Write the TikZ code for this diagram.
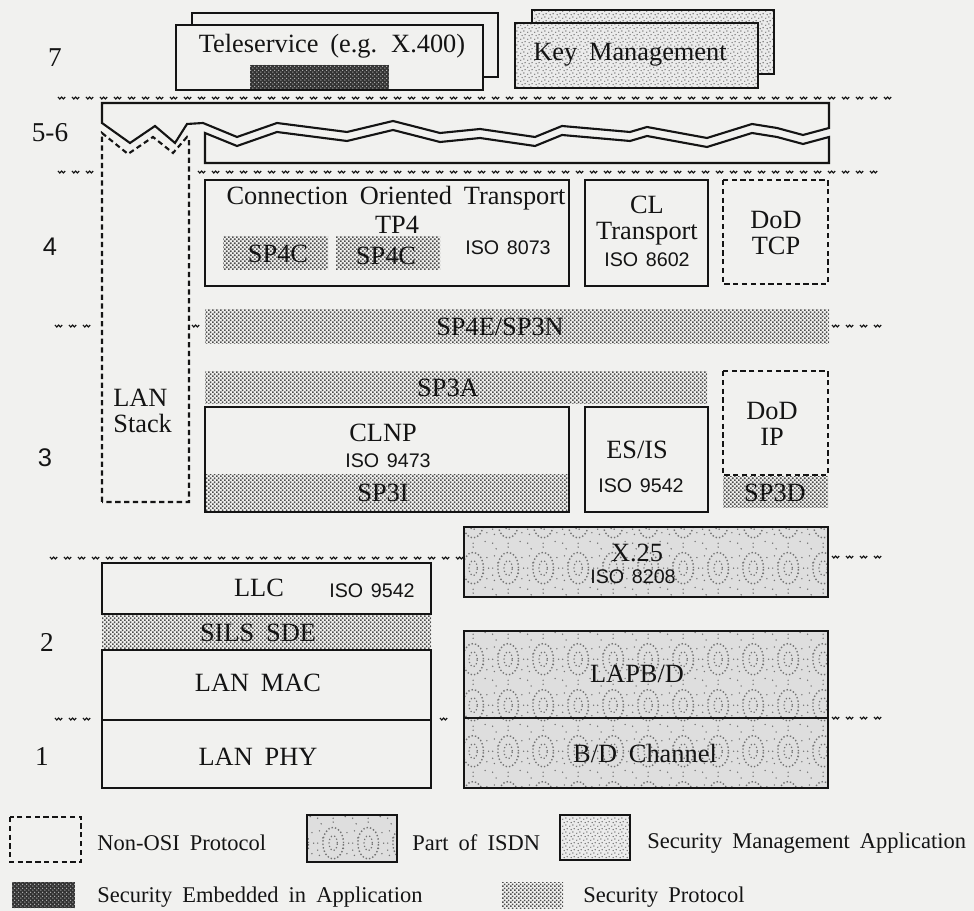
\documentclass[tikz,border=0pt]{standalone}
\usepackage{fontspec}
\setmainfont{Liberation Serif}[WordSpace=1.8]
\setsansfont{Liberation Sans}[WordSpace=1.4]
\usepackage{xcolor}
\usetikzlibrary{patterns.meta}
\definecolor{paper}{HTML}{F1F1EF}
\definecolor{ink}{HTML}{141414}

% fill patterns of the legend
\tikzdeclarepattern{
  name=secdots, type=uncolored,
  bounding box={(0pt,0pt) and (2.2pt,2.2pt)},
  tile size={(2.2pt,2.2pt)},
  code={\fill (0pt,0pt) rectangle (0.95pt,0.95pt);
        \fill (1.1pt,1.1pt) rectangle (2.05pt,2.05pt);}
}
\tikzdeclarepattern{
  name=mgmtdots, type=uncolored,
  bounding box={(0pt,0pt) and (4pt,4pt)},
  tile size={(4pt,4pt)},
  code={\fill (0.5pt,0.5pt) circle (0.45pt);
        \fill (2.5pt,1.3pt) circle (0.45pt);
        \fill (1.4pt,2.8pt) circle (0.45pt);
        \fill (3.3pt,3.4pt) circle (0.45pt);}
}
\tikzdeclarepattern{
  name=isdnrings, type=uncolored,
  bounding box={(0pt,0pt) and (20pt,26pt)},
  tile size={(20pt,26pt)},
  code={\draw[line width=0.8pt,dash pattern=on 0.8pt off 1.2pt]
          (10pt,13pt) ellipse [x radius=6pt,y radius=9pt];
        \draw[line width=0.7pt,dash pattern=on 0.7pt off 1.3pt]
          (10pt,13pt) ellipse [x radius=2.4pt,y radius=4.2pt];
        \foreach \dx/\dy in {1/1,1/13,2/6,2/20,10/1,10/25,18/7,18/19,
                             3/24,17/2,1/9,19/13,4/16,16/10}
          \fill (\dx pt,\dy pt) circle (0.45pt);}
}
\tikzdeclarepattern{
  name=embeddots, type=uncolored,
  bounding box={(0pt,0pt) and (2.4pt,2.4pt)},
  tile size={(2.4pt,2.4pt)},
  code={\fill (0.6pt,0.6pt) circle (0.4pt);
        \fill (1.8pt,1.8pt) circle (0.4pt);}
}

\tikzset{
  box/.style={draw=ink,line width=1.2pt},
  nonosi/.style={draw=ink,line width=1.2pt,dash pattern=on 3pt off 2pt},
  secprot/.style={preaction={fill=paper},pattern={secdots},pattern color=black!70},
  mgmt/.style={preaction={fill=black!8},pattern={mgmtdots},pattern color=black!60},
  isdn/.style={preaction={fill=black!13},pattern={isdnrings},pattern color=black!55},
  embedded/.style={preaction={fill=black!80},pattern={embeddots},pattern color=white!85!black},
  lbl/.style={font=\fontsize{15}{14.8}\selectfont,text=ink,inner sep=0pt},
  iso/.style={font=\sffamily\fontsize{11.2}{12}\selectfont,text=ink,inner sep=0pt},
  layernum/.style={font=\fontsize{15.5}{16}\selectfont,text=ink,inner sep=0pt},
  legend/.style={font=\fontsize{12.8}{14}\selectfont,text=ink,inner sep=0pt,anchor=west},
  sepmark/.style={draw=ink,line width=0.65pt}
}
% row of small layer marks: first, second, last x, then y
\newcommand{\sepmarks}[4]{%
  \foreach \wx in {#1,#2,...,#3}
    \draw[sepmark] (\wx,#4) -- ++(1.8,2) -- ++(1.8,-2) -- ++(1.8,2) -- ++(1.8,-2);}
\newcommand{\onemark}[2]{%
  \draw[sepmark] (#1,#2) -- ++(1.8,2) -- ++(1.8,-2) -- ++(1.8,2) -- ++(1.8,-2);}

\begin{document}
\begin{tikzpicture}[x=0.02cm,y=-0.02cm,line join=miter]
  \useasboundingbox[fill=paper] (0,0) rectangle (974,911);

  % layer numbers
  \node[layernum] (n7) at (55,58) {7};
  \node[layernum] (n56) at (50,133) {5-6};
  \node[layernum,font=\sffamily\fontsize{14.5}{16}\selectfont] (n4) at (50,247) {4};
  \node[layernum,font=\sffamily\fontsize{14.5}{16}\selectfont] (n3) at (45,458) {3};
  \node[layernum] (n2) at (47,642) {2};
  \node[layernum] (n1) at (42,757) {1};

  % layer marks
  \sepmarks{58}{72}{885}{97}
  \sepmarks{58}{72}{86}{171}
  \sepmarks{198}{212}{870}{171}
  \sepmarks{55}{69}{83}{325}
  \onemark{192}{325}
  \sepmarks{832}{846}{874}{325}
  \sepmarks{50}{64}{456}{557}
  \sepmarks{832}{846}{874}{556}
  \sepmarks{55}{69}{83}{718}
  \onemark{440}{718}
  \sepmarks{832}{846}{874}{717}

  % layer 7
  \draw[box,fill=paper] (192,13) rectangle (498,77);
  \draw[box,fill=paper] (176,25) rectangle (483,90);
  \node[lbl] (tele) at (332,46) {Teleservice (e.g. X.400)};
  \path[embedded] (250,65) rectangle (389,89);
  \draw[box,mgmt] (532,10) rectangle (774,74);
  \draw[box,mgmt] (515,23) rectangle (758,88);
  \node[lbl] (keymgmt) at (630,55) {Key Management};

  % layers 5-6
  \draw[box] (102,123) -- (102,103) -- (829,103) -- (829,128) -- (803,135)
    -- (777,128) -- (752,124) -- (707,138) -- (647,127) -- (630,132)
    -- (562,126) -- (535,137) -- (480,129) -- (440,133) -- (393,121)
    -- (347,132) -- (277,123) -- (237,137) -- (203,123) -- (187,124)
    -- (175,143) -- (155,126) -- (130,143) -- cycle;
  \draw[box] (205,133) -- (237,146) -- (277,132) -- (347,141) -- (393,130)
    -- (440,142) -- (480,138) -- (535,146) -- (562,135) -- (630,141)
    -- (647,136) -- (707,147) -- (752,133) -- (777,137) -- (803,144)
    -- (829,137) -- (829,163) -- (205,163) -- cycle;

  % LAN stack
  \draw[nonosi] (102,502) -- (102,133) -- (128,154) -- (153,137) -- (173,153)
    -- (187,137) -- (189,140) -- (189,502) -- cycle;
  \node[lbl,align=left,anchor=west] (lanstack) at (113,411) {LAN\\Stack};

  % layer 4
  \draw[box] (205,180) rectangle (569,286);
  \node[lbl] (cot) at (396,198) {Connection Oriented Transport};
  \node[lbl] (tp4) at (397,225) {TP4};
  \path[secprot] (223,237) rectangle (328,270);
  \node[lbl] (sp4ca) at (278,254) {SP4C};
  \path[secprot] (336,237) rectangle (440,270);
  \node[lbl] (sp4cb) at (386,256) {SP4C};
  \node[iso] (iso8073) at (508,248) {ISO 8073};

  \draw[box] (585,180) rectangle (708,286);
  \node[lbl,align=center] (cltrans) at (647,221) {CL\\Transport};
  \node[iso] (iso8602) at (647,260) {ISO 8602};

  \draw[nonosi] (723,180) rectangle (828,284);
  \node[lbl,align=center] (dodtcp) at (776,233) {DoD\\TCP};

  \path[secprot] (205,310) rectangle (829,344);
  \node[lbl] (sp4e) at (500,327) {SP4E/SP3N};

  % layer 3
  \path[secprot] (205,372) rectangle (707,404);
  \node[lbl] (sp3a) at (448,388) {SP3A};

  \path[secprot] (205,475) rectangle (569,512);
  \draw[box] (205,407) rectangle (569,512);
  \node[lbl] (clnp) at (383,433) {CLNP};
  \node[iso] (iso9473) at (388,461) {ISO 9473};
  \node[lbl] (sp3i) at (383,493) {SP3I};

  \draw[box] (585,407) rectangle (708,512);
  \node[lbl] (esis) at (637,450) {ES/IS};
  \node[iso] (iso9542a) at (641,486) {ISO 9542};

  \draw[nonosi] (723,371) rectangle (828,475);
  \path[secprot] (723,477) rectangle (828,508);
  \node[lbl,align=center] (dodip) at (772,424) {DoD\\IP};
  \node[lbl] (sp3d) at (775,493) {SP3D};

  % layers 1-2, LAN side
  \path[secprot] (102,614) rectangle (431,650);
  \draw[box] (102,563) rectangle (431,614);
  \draw[box] (102,650) rectangle (431,788);
  \draw[box] (102,720) -- (431,720);
  \node[lbl] (llc) at (259,588) {LLC};
  \node[iso] (iso9542b) at (372,591) {ISO 9542};
  \node[lbl] (sils) at (258,633) {SILS SDE};
  \node[lbl] (lanmac) at (258,683) {LAN MAC};
  \node[lbl] (lanphy) at (258,757) {LAN PHY};

  % layers 1-3, ISDN side
  \draw[box,isdn] (464,527) rectangle (828,597);
  \node[lbl] (x25) at (637,553) {X.25};
  \node[iso] (iso8208) at (633,577) {ISO 8208};
  \draw[box,isdn] (464,631) rectangle (828,788);
  \draw[box] (464,718) -- (828,718);
  \node[lbl] (lapb) at (637,674) {LAPB/D};
  \node[lbl] (bdchan) at (645,753) {B/D Channel};

  % legend
  \draw[nonosi] (10,817) rectangle (81,862);
  \node[legend] (lnonosi) at (97,843) {Non-OSI Protocol};
  \draw[box,isdn] (307,815) rectangle (397,862);
  \node[legend] (lisdn) at (412,843) {Part of ISDN};
  \draw[box,mgmt] (560,815) rectangle (630,860);
  \node[legend] (lmgmt) at (647,843) {Security Management Application};
  \path[embedded] (12,882) rectangle (75,908);
  \node[legend] (lembed) at (97,897) {Security Embedded in Application};
  \path[secprot] (502,882) rectangle (563,908);
  \node[legend] (lsecprot) at (583,897) {Security Protocol};
\end{tikzpicture}
\end{document}
